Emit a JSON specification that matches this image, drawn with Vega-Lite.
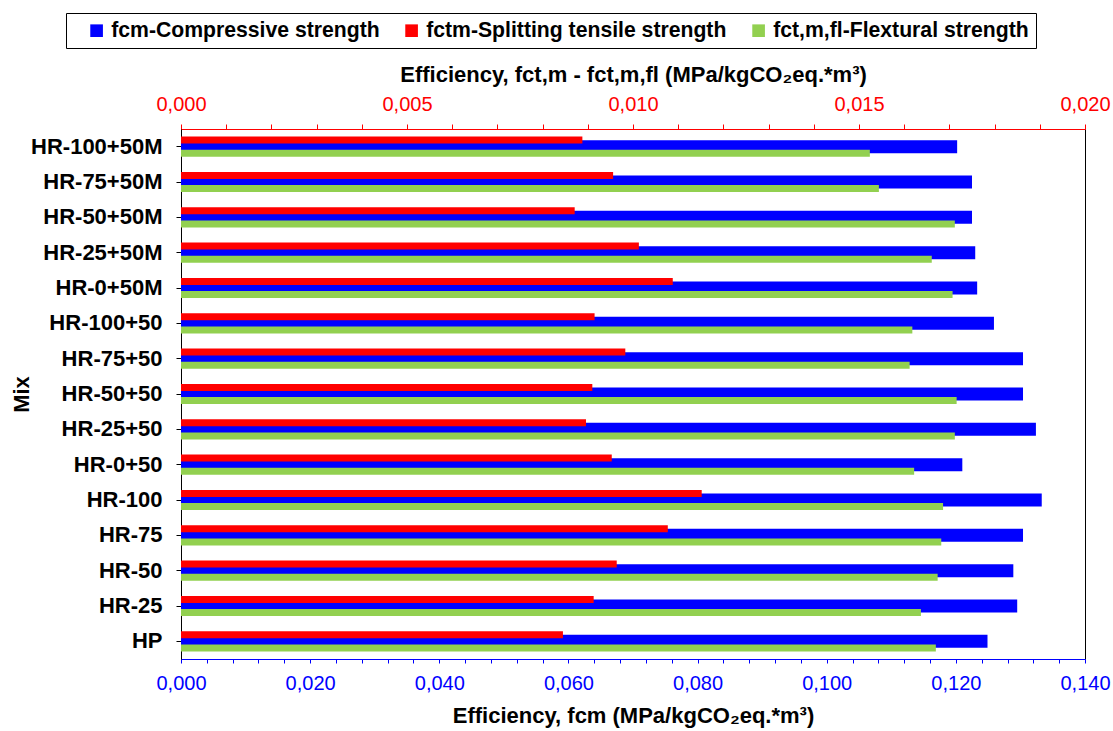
{
  "$schema": "https://vega.github.io/schema/vega-lite/v6.json",
  "width": 904,
  "height": 530,
  "autosize": {"type": "none"},
  "padding": {"left": 181, "top": 129, "right": 28, "bottom": 72},
  "background": "#ffffff",
  "data": {
    "values": [
      {"mix": "HR-100+50M", "series": "fcm-Compressive strength", "value": 0.1202},
      {"mix": "HR-75+50M", "series": "fcm-Compressive strength", "value": 0.1225},
      {"mix": "HR-50+50M", "series": "fcm-Compressive strength", "value": 0.1225},
      {"mix": "HR-25+50M", "series": "fcm-Compressive strength", "value": 0.1230},
      {"mix": "HR-0+50M", "series": "fcm-Compressive strength", "value": 0.1233},
      {"mix": "HR-100+50", "series": "fcm-Compressive strength", "value": 0.1259},
      {"mix": "HR-75+50", "series": "fcm-Compressive strength", "value": 0.1304},
      {"mix": "HR-50+50", "series": "fcm-Compressive strength", "value": 0.1304},
      {"mix": "HR-25+50", "series": "fcm-Compressive strength", "value": 0.1324},
      {"mix": "HR-0+50", "series": "fcm-Compressive strength", "value": 0.1210},
      {"mix": "HR-100", "series": "fcm-Compressive strength", "value": 0.1333},
      {"mix": "HR-75", "series": "fcm-Compressive strength", "value": 0.1304},
      {"mix": "HR-50", "series": "fcm-Compressive strength", "value": 0.1289},
      {"mix": "HR-25", "series": "fcm-Compressive strength", "value": 0.1295},
      {"mix": "HP", "series": "fcm-Compressive strength", "value": 0.1249},
      {"mix": "HR-100+50M", "series": "fctm-Splitting tensile strength", "value": 0.00888},
      {"mix": "HR-75+50M", "series": "fctm-Splitting tensile strength", "value": 0.00956},
      {"mix": "HR-50+50M", "series": "fctm-Splitting tensile strength", "value": 0.00871},
      {"mix": "HR-25+50M", "series": "fctm-Splitting tensile strength", "value": 0.01013},
      {"mix": "HR-0+50M", "series": "fctm-Splitting tensile strength", "value": 0.01088},
      {"mix": "HR-100+50", "series": "fctm-Splitting tensile strength", "value": 0.00915},
      {"mix": "HR-75+50", "series": "fctm-Splitting tensile strength", "value": 0.00983},
      {"mix": "HR-50+50", "series": "fctm-Splitting tensile strength", "value": 0.00910},
      {"mix": "HR-25+50", "series": "fctm-Splitting tensile strength", "value": 0.00896},
      {"mix": "HR-0+50", "series": "fctm-Splitting tensile strength", "value": 0.00953},
      {"mix": "HR-100", "series": "fctm-Splitting tensile strength", "value": 0.01152},
      {"mix": "HR-75", "series": "fctm-Splitting tensile strength", "value": 0.01077},
      {"mix": "HR-50", "series": "fctm-Splitting tensile strength", "value": 0.00964},
      {"mix": "HR-25", "series": "fctm-Splitting tensile strength", "value": 0.00913},
      {"mix": "HP", "series": "fctm-Splitting tensile strength", "value": 0.00845},
      {"mix": "HR-100+50M", "series": "fct,m,fl-Flextural strength", "value": 0.01524},
      {"mix": "HR-75+50M", "series": "fct,m,fl-Flextural strength", "value": 0.01544},
      {"mix": "HR-50+50M", "series": "fct,m,fl-Flextural strength", "value": 0.01712},
      {"mix": "HR-25+50M", "series": "fct,m,fl-Flextural strength", "value": 0.01661},
      {"mix": "HR-0+50M", "series": "fct,m,fl-Flextural strength", "value": 0.01707},
      {"mix": "HR-100+50", "series": "fct,m,fl-Flextural strength", "value": 0.01618},
      {"mix": "HR-75+50", "series": "fct,m,fl-Flextural strength", "value": 0.01612},
      {"mix": "HR-50+50", "series": "fct,m,fl-Flextural strength", "value": 0.01716},
      {"mix": "HR-25+50", "series": "fct,m,fl-Flextural strength", "value": 0.01712},
      {"mix": "HR-0+50", "series": "fct,m,fl-Flextural strength", "value": 0.01622},
      {"mix": "HR-100", "series": "fct,m,fl-Flextural strength", "value": 0.01686},
      {"mix": "HR-75", "series": "fct,m,fl-Flextural strength", "value": 0.01682},
      {"mix": "HR-50", "series": "fct,m,fl-Flextural strength", "value": 0.01674},
      {"mix": "HR-25", "series": "fct,m,fl-Flextural strength", "value": 0.01637},
      {"mix": "HP", "series": "fct,m,fl-Flextural strength", "value": 0.01670}
    ]
  },
  "layer": [
    {
      "transform": [{"filter": "datum.series === 'fcm-Compressive strength'"}],
      "mark": {"type": "bar", "height": 13},
      "encoding": {
        "y": {
          "field": "mix", "type": "nominal",
          "sort": ["HR-100+50M", "HR-75+50M", "HR-50+50M", "HR-25+50M", "HR-0+50M", "HR-100+50", "HR-75+50", "HR-50+50", "HR-25+50", "HR-0+50", "HR-100", "HR-75", "HR-50", "HR-25", "HP"],
          "scale": {"paddingInner": 0, "paddingOuter": 0},
          "axis": {
            "title": "Mix", "titleFontSize": 22, "titleFontWeight": "bold", "titleColor": "#000000", "titlePadding": -3,
            "labelFontSize": 22, "labelFontWeight": "bold", "labelColor": "#000000", "labelPadding": 14,
            "tickSize": 5, "tickColor": "#000000", "domainColor": "#000000", "labelLimit": 300
          }
        },
        "x": {
          "field": "value", "type": "quantitative",
          "scale": {"domain": [0, 0.14], "nice": false, "zero": true},
          "axis": {
            "orient": "bottom",
            "title": "Efficiency, fcm (MPa/kgCO₂eq.*m³)",
            "titleFontSize": 22, "titleFontWeight": "bold", "titleColor": "#000000", "titlePadding": 12,
            "values": [0, 0.004, 0.008, 0.012, 0.016, 0.02, 0.024, 0.028, 0.032, 0.036, 0.04, 0.044, 0.048, 0.052, 0.056, 0.06, 0.064, 0.068, 0.072, 0.076, 0.08, 0.084, 0.088, 0.092, 0.096, 0.1, 0.104, 0.108, 0.112, 0.116, 0.12, 0.124, 0.128, 0.132, 0.136, 0.14],
            "labelExpr": "abs(datum.value * 50 - round(datum.value * 50)) < 0.001 ? replace(format(datum.value, '.3f'), '.', ',') : ''",
            "labelOverlap": false, "labelFlush": false,
            "labelFontSize": 20, "labelColor": "#0000FF", "labelPadding": 10,
            "tickSize": 4, "tickColor": "#0000FF", "domainColor": "#0000FF", "grid": false
          }
        },
        "color": {
          "field": "series", "type": "nominal",
          "scale": {
            "domain": ["fcm-Compressive strength", "fctm-Splitting tensile strength", "fct,m,fl-Flextural strength"],
            "range": ["#0000FF", "#FF0000", "#92D050"]
          },
          "legend": {
            "title": null,
            "orient": "none", "direction": "horizontal", "columns": 3,
            "legendX": -115, "legendY": -116,
            "strokeColor": "#000000", "padding": 7, "fillColor": "#ffffff",
            "symbolType": "square", "symbolSize": 160, "symbolStrokeWidth": 0, "symbolOffset": 13,
            "labelFontSize": 21.2, "labelFontWeight": "bold", "labelColor": "#000000", "labelLimit": 500,
            "labelOffset": 4, "columnPadding": 8
          }
        }
      }
    },
    {
      "layer": [
        {
          "transform": [{"filter": "datum.series === 'fctm-Splitting tensile strength'"}],
          "mark": {"type": "bar", "height": 7, "yOffset": -6.6},
          "encoding": {
            "y": {
              "field": "mix", "type": "nominal",
              "sort": ["HR-100+50M", "HR-75+50M", "HR-50+50M", "HR-25+50M", "HR-0+50M", "HR-100+50", "HR-75+50", "HR-50+50", "HR-25+50", "HR-0+50", "HR-100", "HR-75", "HR-50", "HR-25", "HP"]
            },
            "x": {
              "field": "value", "type": "quantitative",
              "scale": {"domain": [0, 0.02], "nice": false, "zero": true},
              "axis": {
                "orient": "top",
                "title": "Efficiency, fct,m - fct,m,fl (MPa/kgCO₂eq.*m³)",
                "titleFontSize": 22, "titleFontWeight": "bold", "titleColor": "#000000", "titlePadding": 8,
                "values": [0, 0.001, 0.002, 0.003, 0.004, 0.005, 0.006, 0.007, 0.008, 0.009, 0.01, 0.011, 0.012, 0.013, 0.014, 0.015, 0.016, 0.017, 0.018, 0.019, 0.02],
                "labelExpr": "abs(datum.value * 200 - round(datum.value * 200)) < 0.001 ? replace(format(datum.value, '.3f'), '.', ',') : ''",
                "labelOverlap": false, "labelFlush": false,
                "labelFontSize": 20, "labelColor": "#FF0000", "labelPadding": 10,
                "tickSize": 5, "tickColor": "#FF0000", "domainColor": "#FF0000", "grid": false
              }
            },
            "color": {"field": "series", "type": "nominal"}
          }
        },
        {
          "transform": [{"filter": "datum.series === 'fct,m,fl-Flextural strength'"}],
          "mark": {"type": "bar", "height": 7, "yOffset": 6.6},
          "encoding": {
            "y": {
              "field": "mix", "type": "nominal",
              "sort": ["HR-100+50M", "HR-75+50M", "HR-50+50M", "HR-25+50M", "HR-0+50M", "HR-100+50", "HR-75+50", "HR-50+50", "HR-25+50", "HR-0+50", "HR-100", "HR-75", "HR-50", "HR-25", "HP"]
            },
            "x": {"field": "value", "type": "quantitative"},
            "color": {"field": "series", "type": "nominal"}
          }
        }
      ]
    }
  ],
  "resolve": {"scale": {"x": "independent"}, "axis": {"x": "independent"}},
  "config": {
    "font": "Liberation Sans",
    "view": {"stroke": "#000000", "strokeWidth": 1},
    "axis": {"grid": false, "labelFont": "Liberation Sans", "titleFont": "Liberation Sans"},
    "legend": {"labelFont": "Liberation Sans"}
  }
}
